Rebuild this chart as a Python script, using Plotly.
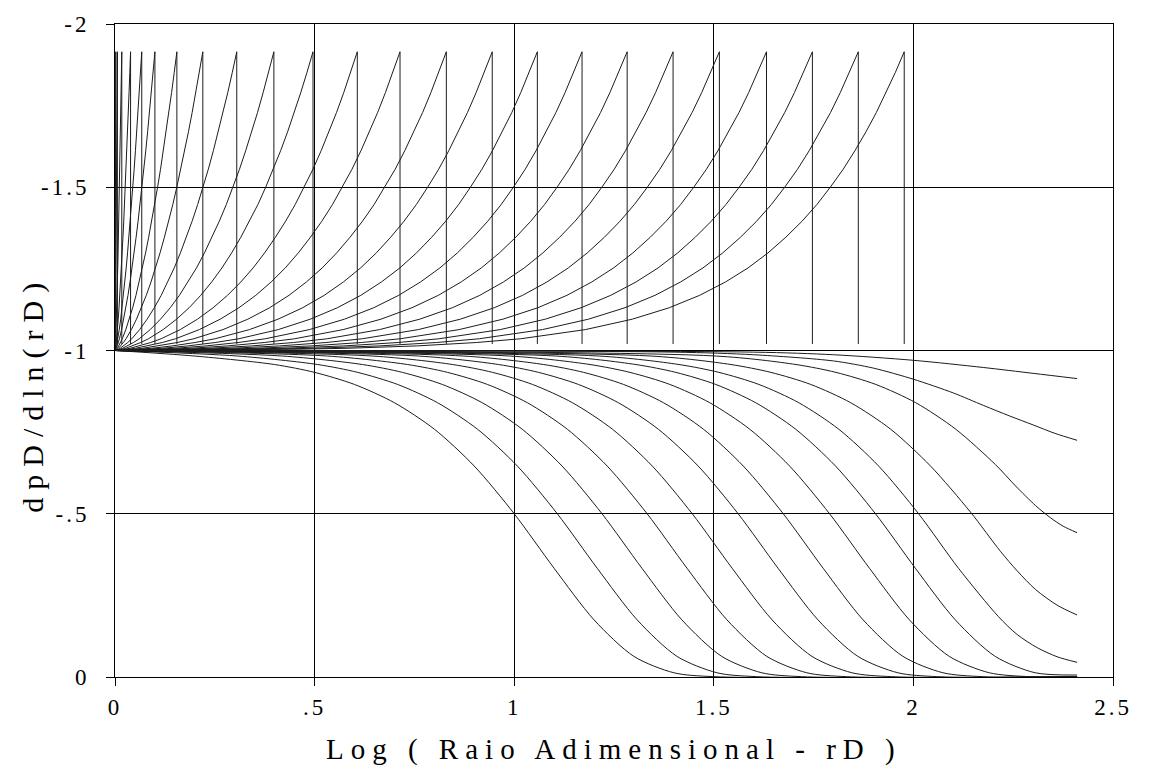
import numpy as np
import plotly.graph_objects as go

# ---------------- axis ticks ----------------
X_TICKS = [0, 0.5, 1, 1.5, 2, 2.5]
X_TICK_TEXT = ["0", ".5", "1", "1.5", "2", "2.5"]
Y_TICKS = [0, -0.5, -1, -1.5, -2]
Y_TICK_TEXT = ["0", "-.5", "-1", "-1.5", "-2"]

# ---------------- upper family (sawtooth curves) ----------------
# log10(reD) at which each curve peaks and drops back
UPPER_PEAK_LOG = [0.002, 0.006, 0.017, 0.039, 0.067, 0.100, 0.155, 0.220, 0.305,
                  0.398, 0.496, 0.607, 0.714, 0.830, 0.945, 1.058, 1.170, 1.283,
                  1.398, 1.514, 1.632, 1.747, 1.862, 1.977]
# rise profile: position (rD-1)/(reD-1) and dpD/dln(rD)
RISE_FRAC = [0, 0.01, 0.02, 0.03, 0.05, 0.075, 0.1, 0.15, 0.2, 0.25, 0.3, 0.35,
             0.4, 0.45, 0.5, 0.55, 0.6, 0.65, 0.7, 0.75, 0.8, 0.85, 0.9, 0.95, 1.0]
RISE_Y = [-1.0, -1.0014, -1.004, -1.0068, -1.014, -1.0244, -1.036, -1.064,
          -1.096, -1.131, -1.169, -1.210, -1.253, -1.299, -1.347, -1.396,
          -1.447, -1.501, -1.555, -1.612, -1.670, -1.729, -1.790, -1.852, -1.915]
DROP_Y = -1.02

# ---------------- lower family (S curves) ----------------
LOWER_X = [
    [0, 0.20, 0.40, 0.50, 0.60, 0.70, 0.80, 0.90, 1.00, 1.10, 1.20, 1.30, 1.40, 1.50, 2.41],
    [0, 0.308, 0.508, 0.608, 0.708, 0.808, 0.908, 1.008, 1.108, 1.208, 1.308, 1.408, 1.508, 1.608, 2.41],
    [0, 0.42, 0.62, 0.72, 0.82, 0.92, 1.02, 1.12, 1.22, 1.32, 1.42, 1.52, 1.62, 1.72, 2.41],
    [0, 0.533, 0.733, 0.833, 0.933, 1.033, 1.133, 1.233, 1.333, 1.433, 1.533, 1.633, 1.733, 1.833, 2.41],
    [0, 0.646, 0.846, 0.946, 1.046, 1.146, 1.246, 1.346, 1.446, 1.546, 1.646, 1.746, 1.846, 1.946, 2.41],
    [0, 0.761, 0.961, 1.061, 1.161, 1.261, 1.361, 1.461, 1.561, 1.661, 1.761, 1.861, 1.961, 2.061, 2.41],
    [0, 0.874, 1.074, 1.174, 1.274, 1.374, 1.474, 1.574, 1.674, 1.774, 1.874, 1.974, 2.074, 2.174, 2.41],
    [0, 0.99, 1.19, 1.29, 1.39, 1.49, 1.59, 1.69, 1.79, 1.89, 1.99, 2.09, 2.19, 2.29, 2.41],
    [0, 1.105, 1.305, 1.405, 1.505, 1.605, 1.705, 1.805, 1.905, 2.005, 2.105, 2.205, 2.305, 2.41],
    [0, 1.213, 1.413, 1.513, 1.613, 1.713, 1.813, 1.913, 2.013, 2.113, 2.213, 2.26, 2.31, 2.36, 2.41],
    [0, 1.343, 1.543, 1.643, 1.743, 1.843, 1.943, 2.043, 2.143, 2.218, 2.26, 2.306, 2.36, 2.41],
    [0, 1.506, 1.706, 1.806, 1.906, 2.006, 2.106, 2.206, 2.256, 2.306, 2.343, 2.375, 2.41],
    [0, 1.40, 1.60, 1.80, 1.90, 2.00, 2.10, 2.175, 2.24, 2.30, 2.355, 2.41],
    [0, 1.60, 1.80, 2.00, 2.175, 2.30, 2.41],
]
LOWER_Y = [
    [-1, -0.983, -0.957, -0.933, -0.896, -0.840, -0.759, -0.646, -0.500, -0.333, -0.175, -0.063, -0.013, -0.001, 0],
    [-1, -0.983, -0.957, -0.933, -0.896, -0.840, -0.759, -0.646, -0.500, -0.333, -0.175, -0.063, -0.013, -0.001, 0],
    [-1, -0.983, -0.957, -0.933, -0.896, -0.840, -0.759, -0.646, -0.500, -0.333, -0.175, -0.063, -0.013, -0.001, 0],
    [-1, -0.983, -0.957, -0.933, -0.896, -0.840, -0.759, -0.646, -0.500, -0.333, -0.175, -0.063, -0.013, -0.001, 0],
    [-1, -0.983, -0.957, -0.933, -0.896, -0.840, -0.759, -0.646, -0.500, -0.333, -0.175, -0.063, -0.013, -0.001, 0],
    [-1, -0.983, -0.957, -0.933, -0.896, -0.840, -0.759, -0.646, -0.500, -0.333, -0.175, -0.063, -0.013, -0.001, 0],
    [-1, -0.983, -0.957, -0.933, -0.896, -0.840, -0.759, -0.646, -0.500, -0.333, -0.175, -0.063, -0.013, -0.001, 0],
    [-1, -0.983, -0.957, -0.933, -0.896, -0.840, -0.759, -0.646, -0.500, -0.333, -0.175, -0.063, -0.013, -0.001, 0],
    [-1, -0.983, -0.957, -0.933, -0.896, -0.840, -0.759, -0.646, -0.500, -0.333, -0.175, -0.063, -0.013, -0.006],
    [-1, -0.983, -0.957, -0.933, -0.896, -0.840, -0.759, -0.646, -0.500, -0.333, -0.185, -0.130, -0.090, -0.062, -0.045],
    [-1, -0.983, -0.957, -0.933, -0.896, -0.840, -0.759, -0.646, -0.505, -0.385, -0.325, -0.268, -0.220, -0.190],
    [-1, -0.983, -0.957, -0.933, -0.896, -0.840, -0.759, -0.650, -0.585, -0.525, -0.488, -0.462, -0.442],
    [-1, -0.995, -0.987, -0.968, -0.946, -0.912, -0.870, -0.832, -0.800, -0.772, -0.746, -0.725],
    [-1, -0.995, -0.987, -0.970, -0.948, -0.930, -0.914],
]

LINE_COLOR = "#1c1c1c"
FONT = "Liberation Serif"

fig = go.Figure()

# upper sawtooth curves
frac = np.array(RISE_FRAC)
for xp in UPPER_PEAK_LOG:
    re = 10 ** xp
    xs = list(np.log10(1 + frac * (re - 1))) + [xp]
    ys = list(RISE_Y) + [DROP_Y]
    fig.add_trace(go.Scatter(x=xs, y=ys, mode="lines",
                             line=dict(color=LINE_COLOR, width=1),
                             hoverinfo="skip", showlegend=False))

# lower S curves
for xs, ys in zip(LOWER_X, LOWER_Y):
    fig.add_trace(go.Scatter(x=xs, y=ys, mode="lines",
                             line=dict(color=LINE_COLOR, width=1, shape="spline", smoothing=0.8),
                             hoverinfo="skip", showlegend=False))

axis_common = dict(showgrid=True, gridcolor="black", gridwidth=1,
                   showline=True, linecolor="black", linewidth=1, mirror=True,
                   ticks="outside", ticklen=8, tickcolor="black", tickwidth=1,
                   zeroline=False, tickfont=dict(family=FONT, size=23, color="black"))

fig.update_xaxes(range=[0, 2.5], tickvals=X_TICKS, ticktext=X_TICK_TEXT,
                 ticklabelstandoff=1, **axis_common)
fig.update_yaxes(range=[0, -2], tickvals=Y_TICKS, ticktext=Y_TICK_TEXT,
                 ticklabelstandoff=12, **axis_common)

fig.update_layout(
    width=1149, height=774,
    margin=dict(l=115, r=36, t=22, b=97),
    plot_bgcolor="white", paper_bgcolor="white",
    showlegend=False,
    font=dict(family=FONT, color="black"),
    annotations=[
        dict(text="Log ( Raio Adimensional - rD )", xref="paper", yref="paper",
             x=0.5, y=-0.111, xanchor="center", yanchor="middle", showarrow=False,
             font=dict(family=FONT, size=29, color="black")),
        dict(text="dpD/dln(rD)", xref="paper", yref="paper",
             x=-0.083, y=0.434, xanchor="center", yanchor="middle", showarrow=False,
             textangle=-90, font=dict(family=FONT, size=30, color="black")),
    ],
)

post_js = """
document.body.style.margin = '0';
document.body.style.padding = '0';
var gd = document.getElementById('{plot_id}');
function spaceTexts(){
  gd.querySelectorAll('.annotation-text').forEach(function(t){
    t.style.letterSpacing = (t.textContent.indexOf('Log') === 0) ? '7px' : '8px';
  });
  gd.querySelectorAll('.xtick text').forEach(function(t){ t.style.letterSpacing = '3px'; });
  gd.querySelectorAll('.ytick text').forEach(function(t){ t.style.letterSpacing = '3px'; });
}
spaceTexts();
if (gd.on) { gd.on('plotly_afterplot', spaceTexts); }
"""

fig.write_html("out.html", post_script=post_js, config={"displayModeBar": False})
